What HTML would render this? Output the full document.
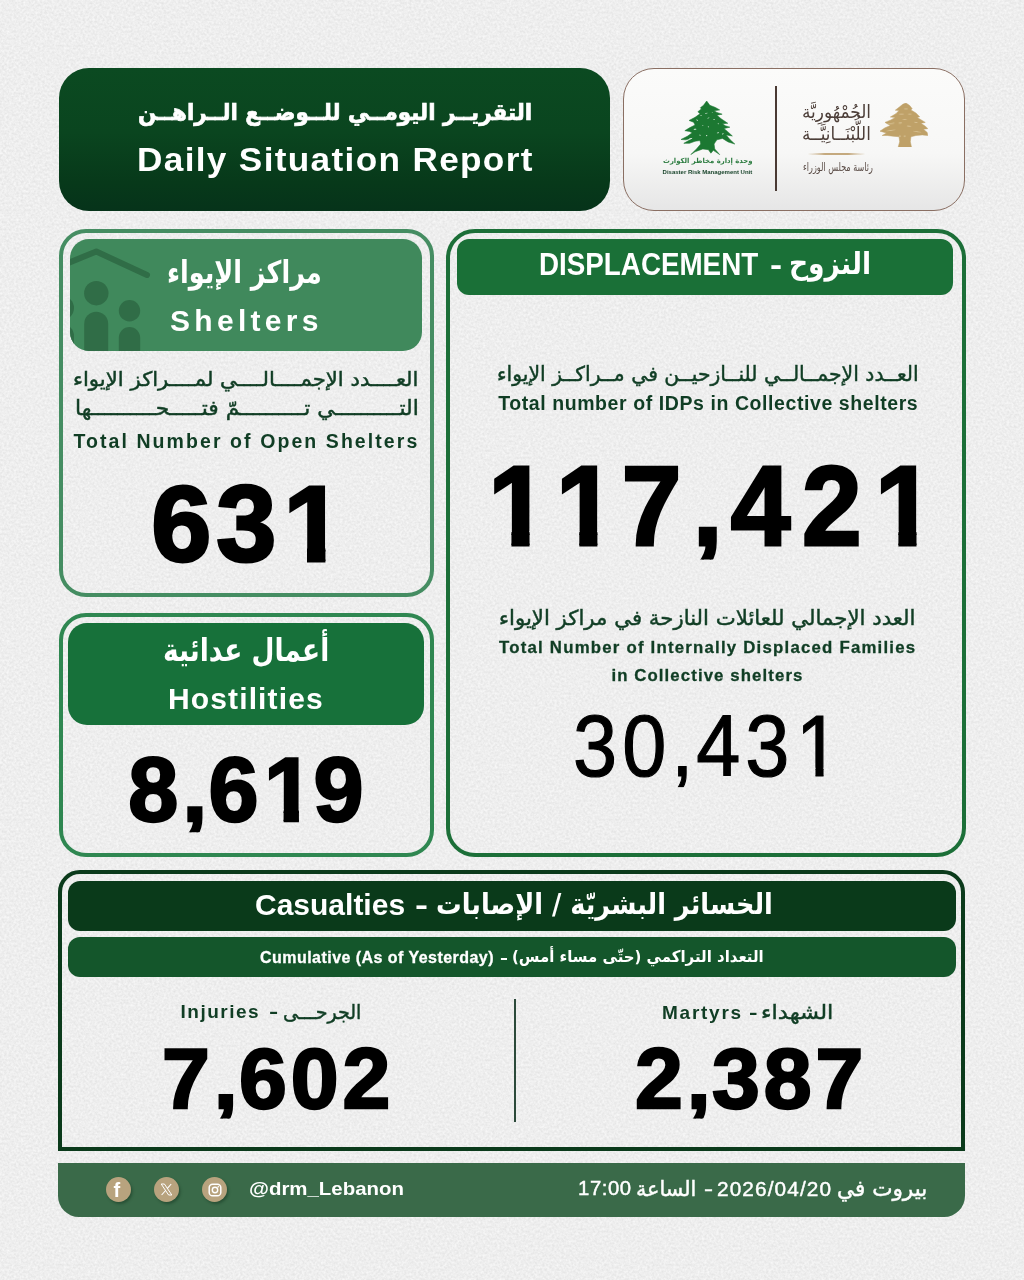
<!DOCTYPE html>
<html lang="ar">
<head>
<meta charset="utf-8">
<title>Daily Situation Report</title>
<style>
html,body{margin:0;padding:0;}
body{width:1024px;height:1280px;position:relative;overflow:hidden;background:#eeeeee;
 font-family:"Liberation Sans","DejaVu Sans",sans-serif;}
.abs{position:absolute;box-sizing:border-box;}
.t{position:absolute;white-space:nowrap;line-height:1;margin:0;padding:0;transform-origin:0 50%;}
.c{text-align:center;}
.ar{font-family:"DejaVu Sans","Liberation Sans",sans-serif;direction:rtl;unicode-bidi:isolate;}
.en{font-family:"Liberation Sans","DejaVu Sans",sans-serif;direction:ltr;}
.b{font-weight:bold;}
.w{color:#fff;}
.dg{color:#103d24;}
.ar.dg{-webkit-text-stroke:0.45px #103d24;}
.num{font-family:"Liberation Sans",sans-serif;font-weight:bold;color:#000;direction:ltr;}

.o1b{display:inline-block;--y:calc(0.7446em - var(--sw)/2 - 1.5px);--a:calc(0.2334em - var(--sw)/2 - 0.3px);--b:calc(0.3706em + var(--sw)/2 + 0.3px);clip-path:polygon(-0.1em 0,0.8em 0,0.8em var(--y),var(--b) var(--y),var(--b) 1em,var(--a) 1em,var(--a) var(--y),-0.1em var(--y));margin-right:-0.05em;margin-left:0.02em;}
.o1r{display:inline-block;--y:calc(0.772em - var(--sw)/2 - 1.5px);--a:calc(0.2515em - var(--sw)/2);--b:calc(0.3398em + var(--sw)/2);clip-path:polygon(-0.1em 0,0.8em 0,0.8em var(--y),var(--b) var(--y),var(--b) 1em,var(--a) 1em,var(--a) var(--y),-0.1em var(--y));margin-right:-0.12em;margin-left:0.02em;}
.cm{display:inline-block;margin-right:-0.03em;clip-path:inset(-0.2em -0.5em 0.03em -0.5em);}
/* header */
#title{left:58.5px;top:68px;width:551.5px;height:143px;border-radius:30px;
 background:linear-gradient(180deg,#0b4a21 0%,#0a451f 45%,#07391a 80%,#06331a 100%);}
#logo{left:623px;top:68px;width:342px;height:143px;border-radius:31px;border:1.5px solid #8a6f63;
 background:linear-gradient(180deg,#fbfbfa 0%,#f7f7f6 60%,#e6e6e6 100%);}

/* cards */
#shel{left:58.5px;top:229.3px;width:375px;height:368px;border:4px solid #458d62;border-radius:27px;}
#shelH{left:70px;top:239px;width:352px;height:112px;border-radius:19px;background:#40895c;overflow:hidden;}
#host{left:58.5px;top:613px;width:375px;height:244px;border:4px solid #2f8751;border-radius:27px;}
#hostH{left:68px;top:623px;width:356px;height:102px;border-radius:19px;background:#17713a;}
#disp{left:446px;top:229px;width:520px;height:628px;border:4px solid #1c6f38;border-radius:29px;}
#dispH{left:457px;top:239px;width:496px;height:56px;border-radius:12px;background:#1a7037;}
#cas{left:58px;top:870px;width:907px;height:281px;border:4px solid #0b3a1b;border-radius:22px 22px 0 0;}
#casH1{left:68px;top:881px;width:888px;height:50px;border-radius:12px;background:#0a3a1a;}
#casH2{left:68px;top:937px;width:888px;height:40px;border-radius:12px;background:#14562b;}
#casDiv{left:513.8px;top:999.4px;width:2.1px;height:122.5px;background:#2c4a3a;}
.ic{width:25px;height:25px;border-radius:50%;background:#b8a37e;box-shadow:1.5px 2px 2.5px rgba(20,50,30,0.45);}
#foot{left:58px;top:1163px;width:907px;height:54px;border-radius:0 0 21px 21px;background:#3a6a49;}
</style>
</head>
<body>
<svg class="abs" id="grain" style="left:0;top:0;" width="1024" height="1280"><filter id="nz" x="0" y="0" width="100%" height="100%" color-interpolation-filters="sRGB"><feTurbulence type="fractalNoise" baseFrequency="0.42" numOctaves="2" seed="7" result="t"/><feColorMatrix in="t" type="matrix" values="0.11 0 0 0 0.878  0.11 0 0 0 0.878  0.11 0 0 0 0.878  0 0 0 0 1"/></filter><rect width="1024" height="1280" filter="url(#nz)"/></svg>

<!-- header -->
<div class="abs" id="title"></div>
<div class="abs" id="logo"></div>

<!-- cards -->
<div class="abs" id="shel"></div>
<div class="abs" id="shelH"><svg class="abs" id="shIcon" style="left:0;top:0;" width="100" height="112" viewBox="0 0 100 112">
 <g fill="#306d47" stroke="none">
  <circle cx="26.3" cy="54.2" r="12.2"/>
  <path d="M14.2,112 V84.8 a12,12 0 0 1 24,0 V112 Z"/>
  <circle cx="59.5" cy="71.8" r="10.7"/>
  <path d="M48.8,112 V98.7 a10.7,10.7 0 0 1 21.4,0 V112 Z"/>
  <circle cx="-8" cy="69" r="12"/>
  <path d="M-20,112 V97 a12,12 0 0 1 24,0 V112 Z"/>
 </g>
 <path d="M-2,24 L26.3,12.5 L77,36" fill="none" stroke="#306d47" stroke-width="6" stroke-linecap="round" stroke-linejoin="round"/>
</svg></div>
<div class="abs" id="host"></div>
<div class="abs" id="hostH"></div>
<div class="abs" id="disp"></div>
<div class="abs" id="dispH"></div>
<div class="abs" id="cas"></div>
<div class="abs" id="casH1"></div>
<div class="abs" id="casH2"></div>
<div class="abs" id="casDiv"></div>
<div class="abs" id="foot"></div>

<!-- logo graphics -->
<svg class="abs m" id="gCedar" style="left:681.1px;top:101.2px;" width="53.8" height="53.6" viewBox="130 88 765 762" preserveAspectRatio="none"><path fill="#1c7832" stroke="#1c7832" stroke-width="8" stroke-linejoin="round" d="M495,88 L540,150 L620,180 L680,215 L600,225 L640,250 L715,275 L640,290 L700,340 L795,405 L720,410 L760,440 L825,460 L740,480 L790,520 L860,585 L770,570 L830,640 L895,700 L800,670 L720,620 L640,640 L600,700 L610,770 L680,850 L590,790 L555,830 L520,780 L440,770 L330,810 L270,850 L350,770 L410,700 L400,650 L330,660 L250,690 L170,690 L240,650 L300,610 L200,640 L130,635 L220,590 L290,540 L250,520 L185,510 L250,470 L330,430 L310,390 L245,365 L330,320 L400,270 L370,240 L420,200 L405,185 L450,150 Z"/><g fill="#e9f3ea"><ellipse cx="490" cy="262" rx="19.0" ry="5.0" transform="rotate(-15 490 262)"/><ellipse cx="575" cy="255" rx="7.0" ry="5.0" transform="rotate(10 575 255)"/><ellipse cx="415" cy="295" rx="12.0" ry="4.5" transform="rotate(-30 415 295)"/><ellipse cx="360" cy="360" rx="14.0" ry="5.0" transform="rotate(25 360 360)"/><ellipse cx="520" cy="330" rx="15.0" ry="5.0" transform="rotate(-10 520 330)"/><ellipse cx="600" cy="350" rx="13.0" ry="6.0" transform="rotate(5 600 350)"/><ellipse cx="660" cy="410" rx="9.0" ry="7.0" transform="rotate(0 660 410)"/><ellipse cx="440" cy="440" rx="10.0" ry="4.5" transform="rotate(10 440 440)"/><ellipse cx="520" cy="455" rx="11.0" ry="5.0" transform="rotate(40 520 455)"/><ellipse cx="330" cy="490" rx="20.0" ry="7.0" transform="rotate(-8 330 490)"/><ellipse cx="655" cy="540" rx="16.0" ry="6.0" transform="rotate(-15 655 540)"/><ellipse cx="725" cy="555" rx="13.0" ry="6.0" transform="rotate(-20 725 555)"/><ellipse cx="400" cy="575" rx="6.0" ry="12.0" transform="rotate(-10 400 575)"/><ellipse cx="495" cy="580" rx="9.0" ry="9.0" transform="rotate(0 495 580)"/><ellipse cx="265" cy="625" rx="25.0" ry="6.0" transform="rotate(-18 265 625)"/></g></svg>
<div class="abs" id="lgDiv" style="left:775.2px;top:86px;width:2px;height:105px;background:#4a3a34;"></div>
<svg class="abs m" id="oCedar" style="left:879.8px;top:102.5px;" width="47.8" height="44.4" viewBox="125 120 765 710" preserveAspectRatio="none"><path fill="#bfa168" stroke="#bfa168" stroke-width="8" stroke-linejoin="round" d="M540,120 L600,160 L640,210 L620,230 L700,280 L760,340 L720,350 L800,400 L850,430 L780,445 L850,490 L890,530 L820,540 L880,590 L890,640 L800,630 L700,640 L620,660 L610,740 L630,830 L415,830 L440,740 L430,660 L330,650 L240,640 L160,640 L230,600 L125,570 L200,520 L290,480 L205,430 L300,390 L370,350 L290,345 L380,290 L430,240 L370,235 L440,180 L490,140 Z"/><g fill="#e6d5ae" opacity="0.8"><ellipse cx="540" cy="215" rx="35.0" ry="6.0" transform="rotate(0 540 215)"/><ellipse cx="470" cy="300" rx="45.0" ry="6.0" transform="rotate(-5 470 300)"/><ellipse cx="600" cy="300" rx="30.0" ry="5.0" transform="rotate(5 600 300)"/><ellipse cx="450" cy="440" rx="30.0" ry="7.0" transform="rotate(-8 450 440)"/><ellipse cx="590" cy="490" rx="35.0" ry="7.0" transform="rotate(5 590 490)"/><ellipse cx="300" cy="450" rx="60.0" ry="6.0" transform="rotate(-10 300 450)"/><ellipse cx="700" cy="430" rx="30.0" ry="6.0" transform="rotate(10 700 430)"/><ellipse cx="300" cy="560" rx="80.0" ry="6.0" transform="rotate(-8 300 560)"/><ellipse cx="720" cy="580" rx="70.0" ry="5.0" transform="rotate(8 720 580)"/><ellipse cx="445" cy="650" rx="9.0" ry="15.0" transform="rotate(0 445 650)"/><ellipse cx="520" cy="650" rx="9.0" ry="15.0" transform="rotate(0 520 650)"/><ellipse cx="520" cy="380" rx="40.0" ry="5.0" transform="rotate(0 520 380)"/></g></svg>
<div class="abs" id="swoosh" style="left:808px;top:152.6px;width:57px;height:2.2px;border-radius:50%;background:linear-gradient(90deg,rgba(200,176,138,0.2),#c4a97e 30%,#c4a97e 70%,rgba(200,176,138,0.2));"></div>


<!-- social icons -->
<div class="abs ic" style="left:106px;top:1176.7px;"></div>
<div class="abs ic" style="left:154px;top:1176.7px;"></div>
<div class="abs ic" style="left:202px;top:1177.2px;"></div>
<div class="t en b w" id="fbF" style="left:113.6px;top:1179.5px;font-size:20px;">f</div>
<svg class="abs" style="left:160px;top:1182.7px;" width="13" height="13" viewBox="0 0 13 13"><path d="M1.2,1 L4.4,1 L11.8,12 L8.6,12 Z" fill="none" stroke="#fff" stroke-width="1"/><path d="M11.2,1 L7.2,5.7 M5.6,7.5 L1.6,12" fill="none" stroke="#fff" stroke-width="1.1"/></svg>
<svg class="abs" style="left:207.5px;top:1182.7px;" width="14" height="14" viewBox="0 0 14 14"><rect x="1.2" y="1.2" width="11.6" height="11.6" rx="3.4" fill="none" stroke="#fff" stroke-width="1.5"/><circle cx="7" cy="7" r="2.7" fill="none" stroke="#fff" stroke-width="1.4"/><circle cx="10.3" cy="3.7" r="0.8" fill="#fff"/></svg>

<!-- header text -->
<div class="t ar b w" id="tAr" style="-webkit-text-stroke:0.7px #fff;left:137.8px;top:100.8px;font-size:23px;transform:scaleX(0.935);">التقريــر اليومــي للــوضــع الــراهــن</div>
<div class="t en b w" id="tEn" style="left:136.5px;top:143px;font-size:33.5px;letter-spacing:1.27px;transform:scaleX(1.05);">Daily Situation Report</div>

<!-- logo text -->
<div class="t ar b" id="lgA" style="left:663px;top:158px;font-size:7px;color:#2c7c40;transform:scaleX(0.98);">وحدة إدارة مخاطر الكوارث</div>
<div class="t en b" id="lgE" style="left:662.6px;top:169.3px;font-size:6px;color:#123f25;">Disaster Risk Management Unit</div>
<div class="t ar" id="cal1" style="left:802px;top:101px;font-size:18px;line-height:22px;color:#4c3e38;transform:scaleX(0.94);">الجُمْهُورِيَّة</div>
<div class="t ar" id="cal2" style="left:802px;top:123px;font-size:18px;line-height:22px;color:#4c3e38;transform:scaleX(0.93);">اللُّبْنَــانِيَّــة</div>
<div class="t ar" id="cal3" style="left:803px;top:162px;font-size:11.5px;color:#5a4c46;transform:scaleX(0.70);">رئاسة مجلس الوزراء</div>

<!-- shelters -->
<div class="t ar b w" id="shAr" style="left:166.5px;top:257px;font-size:31px;transform:scaleX(0.821);">مراكز الإيواء</div>
<div class="t en b w" id="shEn" style="left:170px;top:305.5px;font-size:30px;letter-spacing:4.3px;">Shelters</div>
<div class="t ar dg" id="shA1" style="left:73px;top:369px;font-size:20px;transform:scaleX(1.06);">العــــدد الإجمــــالــــي لمــــراكز الإيواء</div>
<div class="t ar dg" id="shA2" style="left:74.6px;top:398px;font-size:20.5px;transform:scaleX(1.065);">التــــــــــي تــــــــــمّ فتـــــحــــــــــها</div>
<div class="t en b dg" id="shE" style="left:73.4px;top:431.5px;font-size:19.5px;letter-spacing:2.08px;">Total Number of Open Shelters</div>
<div class="t num" id="n631" style="left:151.3px;top:470px;font-size:108px;letter-spacing:5px;--sw:3px;-webkit-text-stroke:3px #000;">63<span class="o1b">1</span></div>

<!-- hostilities -->
<div class="t ar b w" id="hoAr" style="left:162.9px;top:633.5px;font-size:32px;transform:scaleX(0.827);">أعمال عدائية</div>
<div class="t en b w" id="hoEn" style="left:168px;top:683.5px;font-size:30px;letter-spacing:1.13px;">Hostilities</div>
<div class="t num" id="n8619" style="left:128.3px;top:745px;font-size:90px;letter-spacing:3.85px;--sw:2.4px;-webkit-text-stroke:2.4px #000;">8<span class="cm">,</span>6<span class="o1b">1</span>9</div>

<!-- displacement -->
<div class="t en b w" id="diHe" style="left:538.5px;top:248.5px;font-size:31.5px;transform:scaleX(0.882);">DISPLACEMENT</div>
<div class="t en b w" id="diHd" style="left:770px;top:249px;font-size:31.5px;transform:scaleX(1.15);">-</div>
<div class="t ar b w" id="diHa" style="left:789px;top:248.5px;font-size:30.5px;transform:scaleX(0.87);">النزوح</div>
<div class="t ar dg" id="diA1" style="left:497px;top:363.7px;font-size:20.5px;transform:scaleX(0.993);">العــدد الإجمــالــي للنــازحيــن في مــراكــز الإيواء</div>
<div class="t en b dg" id="diE1" style="left:498.2px;top:393.6px;font-size:19.5px;letter-spacing:0.58px;">Total number of IDPs in Collective shelters</div>
<div class="t num" id="n117" style="left:485.5px;top:449px;font-size:114px;letter-spacing:12.2px;--sw:3px;-webkit-text-stroke:3px #000;transform:scaleX(0.94);"><span class="o1b">1</span><span class="o1b">1</span>7<span class="cm">,</span>42<span class="o1b">1</span></div>
<div class="t ar dg" id="diA2" style="left:498.6px;top:607.9px;font-size:20.5px;transform:scaleX(1.037);">العدد الإجمالي للعائلات النازحة في مراكز الإيواء</div>
<div class="t en b dg" id="diE2" style="-webkit-text-stroke:0.3px #103d24;left:499px;top:640.3px;font-size:16.8px;letter-spacing:1.22px;">Total Number of Internally Displaced Families</div>
<div class="t en b dg" id="diE3" style="-webkit-text-stroke:0.3px #103d24;left:611.4px;top:668.3px;font-size:16.8px;letter-spacing:1.1px;">in Collective shelters</div>
<div class="t num" id="n30" style="left:573px;top:702px;font-size:88px;font-weight:normal;letter-spacing:5.7px;--sw:1.2px;-webkit-text-stroke:1.2px #000;transform:scaleX(0.9);">30<span class="cm">,</span>43<span class="o1r">1</span></div>

<!-- casualties -->
<div class="t en b w" id="caH1e" style="left:255px;top:890px;font-size:30px;letter-spacing:0px;">Casualties</div>
<div class="t en b w" id="caH1d" style="left:415px;top:890px;font-size:30px;transform:scaleX(1.3);">-</div>
<div class="t ar b w" id="caH1a" style="left:436px;top:891.2px;font-size:28.5px;transform:scaleX(0.897);">الخسائر البشريّة / الإصابات</div>
<div class="t en b w" id="caH2e" style="-webkit-text-stroke:0.3px #fff;left:260px;top:950px;font-size:16px;letter-spacing:0.46px;">Cumulative (As of Yesterday)</div>
<div class="t en b w" id="caH2d" style="left:500px;top:950px;font-size:16px;transform:scaleX(1.5);">-</div>
<div class="t ar b w" id="caH2a" style="left:511.6px;top:949px;font-size:16px;transform:scaleX(0.935);">التعداد التراكمي (حتّى مساء أمس)</div>
<div class="t en b dg" id="inLe" style="left:180.5px;top:1002px;font-size:19px;letter-spacing:1.5px;">Injuries</div>
<div class="t en b dg" id="inLd" style="left:268.5px;top:1002px;font-size:19px;transform:scaleX(1.45);">-</div>
<div class="t ar dg" id="inLa" style="left:283px;top:1002px;font-size:20px;transform:scaleX(0.954);">الجرحـــى</div>
<div class="t num" id="n7602" style="left:162px;top:1035px;font-size:86px;letter-spacing:3.9px;-webkit-text-stroke:2.4px #000;">7<span class="cm">,</span>602</div>
<div class="t en b dg" id="maLe" style="left:662px;top:1003px;font-size:19px;letter-spacing:1.75px;">Martyrs</div>
<div class="t en b dg" id="maLd" style="left:749px;top:1003px;font-size:19px;transform:scaleX(1.35);">-</div>
<div class="t ar dg" id="maLa" style="left:761px;top:1002px;font-size:20px;transform:scaleX(1.127);">الشهداء</div>
<div class="t num" id="n2387" style="left:635px;top:1035px;font-size:86px;letter-spacing:3.9px;-webkit-text-stroke:2.4px #000;">2<span class="cm">,</span>387</div>

<!-- footer -->
<div class="t en b w" id="ftH" style="left:249px;top:1178.5px;font-size:19px;transform:scaleX(1.075);">@drm_Lebanon</div>
<div class="t en w" id="ftT" style="-webkit-text-stroke:0.45px #fff;left:578px;top:1178.3px;font-size:20.3px;letter-spacing:0.6px;">17:00</div>
<div class="t ar w" id="ftS" style="-webkit-text-stroke:0.45px #fff;left:635.6px;top:1178.5px;font-size:20.5px;transform:scaleX(1.01);">الساعة</div>
<div class="t en w" id="ftDd" style="-webkit-text-stroke:0.45px #fff;left:703.5px;top:1178.8px;font-size:20.8px;transform:scaleX(1.3);">-</div>
<div class="t en w" id="ftDt" style="-webkit-text-stroke:0.45px #fff;left:717px;top:1178.8px;font-size:20.8px;letter-spacing:1.1px;">2026/04/20</div>
<div class="t ar w" id="ftB" style="-webkit-text-stroke:0.45px #fff;left:836.8px;top:1178px;font-size:22px;transform:scaleX(0.98);">بيروت في</div>

</body>
</html>
